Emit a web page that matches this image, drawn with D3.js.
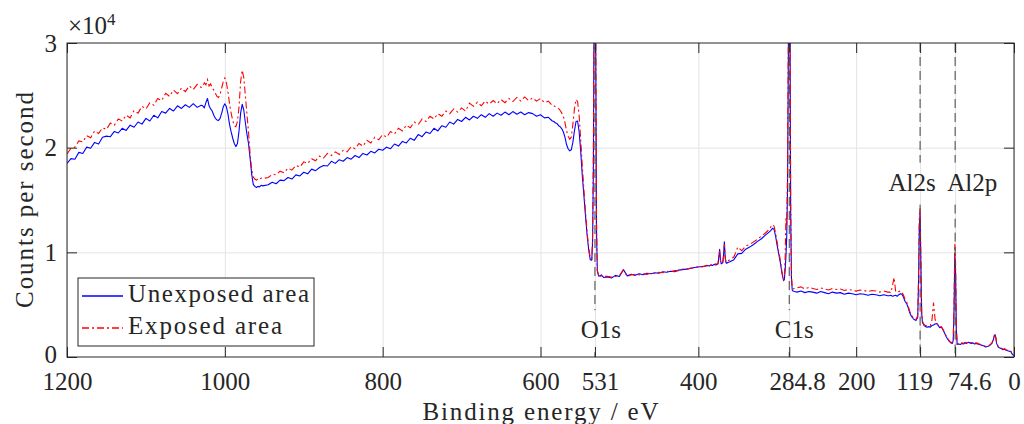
<!DOCTYPE html>
<html>
<head>
<meta charset="utf-8">
<script src="https://cdn.jsdelivr.net/npm/d3@7"></script>
<style>
  body { margin: 0; background: #fff; }
  text { font-family: "Liberation Serif", "DejaVu Serif", serif; fill: #262626; }
</style>
</head>
<body>
<div id="chart"></div>
<script>
// binding energy grid (eV)
const bindingEnergy = [
  // 1200 - 1030
  1200,1195,1190,1185,1180,1175,1170,1165,1160,1155,1150,1145,1140,1135,1130,1125,1120,1115,1110,1105,
  1100,1095,1090,1085,1080,1075,1070,1065,1060,1055,1050,1045,1040,1035,1030,
  // 1028 - 952
  1028,1026,1024,1022,1020,1018,1016,1014,1012,1010,1008,1006,1004,1002,1000,998,996,994,992,990,
  988,986,984,982,980,978,976,974,972,970,968,966,964,962,960,958,956,954,952,
  // 945 - 585
  945,940,935,930,925,920,915,910,905,900,895,890,885,880,875,870,865,860,855,850,
  845,840,835,830,825,820,815,810,805,800,795,790,785,780,775,770,765,760,755,750,
  745,740,735,730,725,720,715,710,705,700,695,690,685,680,675,670,665,660,655,650,
  645,640,635,630,625,620,615,610,605,600,595,590,585,
  // 583 - 535
  583,581,579,577,575,573,571,569,567,565,563,561,559,557,555,553,551,549,547,545,543,541,539,537,535,
  // O1s
  534,533,532,531,530,529,528,526,523,520,
  // 515 - 390
  515,510,505,500,495,490,485,480,475,470,465,460,455,450,445,440,435,430,425,420,415,410,405,400,395,390,
  // 388 - 360
  388,386,384,382,380,378,376,375,374,373,372,371,370,369,368,367,366,365,364,362,360,
  // 355 - 310
  355,350,345,340,335,330,325,320,315,310,
  // C1s
  308,306,304,302,300,298,296,294,292,291,290,289,288,287,286,285,284,283,282,281,280,278,
  // 275 - 160
  275,270,265,260,255,250,245,240,235,230,225,220,215,210,205,200,195,190,185,180,175,170,165,160,
  // 158 - 0
  158,156,154,152,150,148,146,144,142,140,138,136,134,132,130,128,126,124,122,121,
  120,119,118,117,116,114,112,110,108,106,104,102,100,98,96,94,92,90,88,86,
  84,82,80,78,77,76,75,74,73,72,70,68,66,64,62,60,58,56,54,52,
  50,48,46,44,42,40,38,36,34,32,30,28,26,25,24,23,22,20,18,16,
  14,12,10,8,6,4,2,0
];

// counts per second, unexposed area
const unexposedCounts = [
  18500,18950,18900,19550,19450,20050,19950,20500,20350,21000,21100,21050,21550,21400,21850,21650,22150,21950,22450,22250,
  22800,22550,23100,22850,23450,23300,23750,23500,24000,23750,24100,23850,24200,23850,24050,
  24000,23800,24300,24700,24000,23700,23500,23100,22800,22650,22600,22800,23300,23900,24200,23900,23200,22200,21500,20900,
  20400,20100,20400,21600,23300,24150,23600,22400,21300,20400,19000,17500,16500,16300,16200,16300,16250,16400,16350,
  16450,16700,16550,16900,16850,17150,17000,17400,17300,17650,17500,17950,17800,18100,18300,18250,18700,18500,18850,18700,
  19050,18900,19250,19050,19450,19300,19650,19500,19850,19750,20050,19900,20350,20150,20600,20450,20900,20700,21250,21050,
  21500,21350,21850,21600,22100,21950,22450,22250,22700,22500,22900,22650,23000,22800,23150,22900,23250,23000,23300,23100,
  23400,23150,23450,23200,23400,23150,23350,23250,23000,23150,22850,22900,22550,
  22500,22350,22300,22100,22000,21800,21500,21000,20300,19900,19700,19800,20500,21600,22500,22550,21500,19600,17300,15400,13500,11700,10300,9300,9250,
  11000,18000,36000,48000,30000,12000,8200,7700,7850,7600,
  7650,7550,7800,7700,8350,7750,7900,7800,7950,7850,8000,7950,8050,8000,8150,8100,8200,8150,8300,8350,8400,8450,8550,8600,8650,8700,
  8750,8700,8800,8750,8850,8800,8850,8900,9600,10300,9300,8900,8950,9000,9800,11000,9600,9000,8950,9050,9100,
  9300,9850,9900,10300,10500,10750,11050,11300,11650,11950,
  12100,12300,12200,11500,10600,9800,9000,8000,7300,7400,8300,9600,11500,16000,28000,42000,36000,14000,7500,6400,6300,6250,
  6200,6300,6150,6250,6200,6100,6250,6150,6050,6200,6100,6150,6000,6100,6050,5950,6050,6000,5900,6000,5950,5850,5950,5850,
  5850,5900,5800,5850,5900,5800,5950,6050,6000,5700,5300,5100,4700,4200,3900,3700,3550,3500,3800,7000,
  12500,13700,9000,4200,3300,3000,2900,2850,2900,2850,3000,3050,3150,3200,3000,2800,2850,2600,2300,1950,
  1700,1500,1350,1300,1600,4500,9800,8000,2500,1200,1250,1200,1300,1250,1350,1300,1400,1350,1300,1350,
  1250,1300,1250,1200,1150,1100,1050,950,1000,1050,1150,1300,1700,2000,2150,1800,1300,950,850,800,
  700,750,650,600,550,500,250,100
];

// counts per second, exposed area
const exposedCounts = [
  19400,19950,20050,20650,20550,21150,20950,21600,21350,21900,21750,22350,22150,22750,22550,23100,22850,23550,23300,23950,
  23700,24300,24050,24700,24500,25200,24900,25500,25150,25700,25350,25900,25550,26050,25750,
  25850,26200,26000,26500,25900,26100,25700,25500,25200,24900,24800,25100,25700,26300,26650,26200,25300,24200,23300,22600,
  22100,22000,22500,23900,26300,27400,26700,25000,23200,21500,19400,17900,17200,17000,16900,17000,16950,17100,17050,
  17150,17450,17400,17750,17600,18050,17850,18300,18150,18650,18500,18950,18750,19200,19000,19450,19250,19600,19350,19750,
  19600,20100,19900,20400,20150,20700,20450,21000,20750,21250,21000,21550,21300,21850,21600,22150,21900,22450,22200,22750,
  22500,23000,22750,23250,23000,23500,23250,23700,23400,23800,23500,24250,23950,24350,24000,24450,24150,24500,24200,24600,
  24300,24700,24400,24800,24450,24850,24500,24750,24450,24700,24300,24450,24000,
  24000,23900,23800,23750,23550,23300,23000,22400,21600,21100,20800,21000,22200,23700,24600,24400,23000,20700,18200,16000,13900,12000,10500,9500,9400,
  11500,19500,38000,50000,32000,13000,8300,7650,7750,7700,
  7700,7650,7700,7800,8300,7700,7850,7900,7850,7950,7900,8050,7950,8100,8050,8200,8150,8250,8250,8400,8350,8500,8500,8650,8600,8750,
  8700,8800,8750,8850,8800,8900,8850,8950,9500,10100,9200,8950,9000,9050,9700,10800,9500,9050,9050,9200,9300,
  9550,10500,10150,10600,10750,11000,11250,11550,11850,12200,
  12450,12650,12500,11800,10900,10000,9200,8100,7400,7600,9500,13400,12500,17500,30000,44000,38000,15000,7800,6600,6500,6550,
  6600,6700,6500,6650,6550,6450,6600,6500,6400,6550,6450,6500,6350,6450,6400,6300,6400,6350,6250,6350,6300,6200,6300,6200,
  6200,6150,6800,7600,6300,6150,6250,6300,6200,5900,5500,5250,4850,4350,4000,3800,3650,3600,3950,7500,
  13200,14200,9500,4400,3400,3100,3000,2950,3000,3000,3500,5200,3600,3250,3050,2850,2900,2650,2350,2000,
  1750,1550,1400,1350,1700,5000,10800,8800,2700,1250,1300,1250,1350,1300,1400,1350,1450,1400,1350,1400,
  1300,1350,1300,1250,1200,1150,1100,1000,1050,1100,1200,1350,1750,2050,2200,1850,1350,1000,900,850,
  750,800,700,650,600,550,300,150
];

const seriesNames = ["Unexposed area", "Exposed area"];
const seriesColors = ["#0000ff", "#ff0000"];
const xTickValues = [1200, 1000, 800, 600, 531, 400, 284.8, 200, 119, 74.6, 0];
const yTickValues = [0, 10000, 20000, 30000];
const peakEnergies = [531, 284.8, 119, 74.6];
const peakLabels = ["O1s", "C1s", "Al2s", "Al2p"];

if (unexposedCounts.length !== bindingEnergy.length || exposedCounts.length !== bindingEnergy.length) {
    console.error("length mismatch", bindingEnergy.length, unexposedCounts.length, exposedCounts.length);
}

// Layout
const width = 1024, height = 424;
const plotLeft = 67, plotRight = 1014, plotTop = 43, plotBottom = 357;
const dashDot = "7,3,2,3";

const svg = d3.select("#chart")
    .append("svg")
    .attr("width", width)
    .attr("height", height);

const x = d3.scaleLinear().domain([1200, 0]).range([plotLeft, plotRight]);
const y = d3.scaleLinear().domain([0, 30000]).range([plotBottom, plotTop]);

// Grid
svg.append("g")
    .attr("transform", `translate(0,${plotBottom})`)
    .call(d3.axisBottom(x).tickValues(xTickValues).tickSize(-(plotBottom - plotTop)).tickFormat(""))
    .call(g => g.select(".domain").remove())
    .call(g => g.selectAll("line").attr("stroke", "#e3e3e3"));

svg.append("g")
    .attr("transform", `translate(${plotLeft},0)`)
    .call(d3.axisLeft(y).tickValues([10000, 20000]).tickSize(-(plotRight - plotLeft)).tickFormat(""))
    .call(g => g.select(".domain").remove())
    .call(g => g.selectAll("line").attr("stroke", "#e3e3e3"));

// Clip
svg.append("clipPath")
    .attr("id", "plot-clip")
    .append("rect")
    .attr("x", plotLeft).attr("y", plotTop)
    .attr("width", plotRight - plotLeft).attr("height", plotBottom - plotTop);

const line = d3.line()
    .x((d, i) => x(bindingEnergy[i]))
    .y(d => y(d));

const plot = svg.append("g").attr("clip-path", "url(#plot-clip)");

plot.append("path")
    .datum(unexposedCounts)
    .attr("d", line)
    .attr("fill", "none")
    .attr("stroke", seriesColors[0])
    .attr("stroke-width", 1.1)
    .attr("stroke-linejoin", "round");

plot.append("path")
    .datum(exposedCounts)
    .attr("d", line)
    .attr("fill", "none")
    .attr("stroke", seriesColors[1])
    .attr("stroke-width", 1.1)
    .attr("stroke-dasharray", dashDot);

// Peak markers (dashed lines with a gap for the label)
const labelBase = {"O1s": 1800, "C1s": 1800, "Al2s": 15900, "Al2p": 15900};
const labelShift = {"O1s": 6, "C1s": 5, "Al2s": -8, "Al2p": 17};

peakEnergies.forEach((e, i) => {
    const name = peakLabels[i];
    const base = y(labelBase[name]);
    const gapTop = base - 28, gapBottom = base + 14;
    [[plotTop, gapTop], [gapBottom, plotBottom]].forEach(([y1, y2]) => {
        svg.append("line")
            .attr("x1", x(e)).attr("x2", x(e))
            .attr("y1", y1).attr("y2", y2)
            .attr("stroke", "#404040")
            .attr("stroke-width", 1)
            .attr("stroke-dasharray", "9,5");
    });
    svg.append("text")
        .attr("x", x(e) + labelShift[name])
        .attr("y", base)
        .attr("text-anchor", "middle")
        .style("font-size", "25px")
        .text(name);
});

// Axes (ticks inside)
const tickShift = {531: 5, 284.8: 8, 119: -6, 74.6: 14};

svg.append("g")
    .attr("transform", `translate(0,${plotBottom})`)
    .call(d3.axisBottom(x).tickValues(xTickValues).tickSize(-10).tickPadding(15).tickFormat(d => d))
    .call(g => g.select(".domain").remove())
    .call(g => g.selectAll("line").attr("stroke", "#262626"))
    .call(g => g.selectAll("text")
        .attr("fill", "#262626")
        .attr("dx", d => tickShift[d] || 0)
        .style("font-size", "25px")
        .style("font-family", "'Liberation Serif', serif"));

svg.append("g")
    .attr("transform", `translate(0,${plotTop})`)
    .call(d3.axisTop(x).tickValues(xTickValues).tickSize(-10).tickFormat(""))
    .call(g => g.select(".domain").remove())
    .call(g => g.selectAll("line").attr("stroke", "#262626"));

svg.append("g")
    .attr("transform", `translate(${plotLeft},0)`)
    .call(d3.axisLeft(y).tickValues(yTickValues).tickSize(-10).tickPadding(10).tickFormat(d => d / 10000))
    .call(g => g.select(".domain").remove())
    .call(g => g.selectAll("line").attr("stroke", "#262626"))
    .call(g => g.selectAll("text")
        .attr("fill", "#262626")
        .attr("dy", d => d === 0 ? "0.2em" : "0.32em")
        .style("font-size", "25px")
        .style("font-family", "'Liberation Serif', serif"));

svg.append("g")
    .attr("transform", `translate(${plotRight},0)`)
    .call(d3.axisRight(y).tickValues(yTickValues).tickSize(-10).tickFormat(""))
    .call(g => g.select(".domain").remove())
    .call(g => g.selectAll("line").attr("stroke", "#262626"));

svg.append("rect")
    .attr("x", plotLeft).attr("y", plotTop)
    .attr("width", plotRight - plotLeft).attr("height", plotBottom - plotTop)
    .attr("fill", "none")
    .attr("stroke", "#262626")
    .attr("stroke-width", 1);

// Exponent
const expo = svg.append("text")
    .attr("x", 68)
    .attr("y", 34)
    .style("font-size", "25px");
expo.append("tspan").text("×10");
expo.append("tspan").attr("dy", -9).style("font-size", "17px").text("4");

// Axis titles
svg.append("text")
    .attr("x", (plotLeft + plotRight) / 2)
    .attr("y", 420)
    .attr("text-anchor", "middle")
    .attr("textLength", 236)
    .style("font-size", "25px")
    .text("Binding energy / eV");

svg.append("text")
    .attr("transform", `translate(33,${(plotTop + plotBottom) / 2}) rotate(-90)`)
    .attr("text-anchor", "middle")
    .attr("textLength", 216)
    .style("font-size", "25px")
    .text("Counts per second");

// Legend
const legend = svg.append("g");
legend.append("rect")
    .attr("x", 78).attr("y", 278)
    .attr("width", 236).attr("height", 68)
    .attr("fill", "#fff")
    .attr("stroke", "#262626")
    .attr("stroke-width", 1);

const legendTextLength = [181, 154];
seriesNames.forEach((name, i) => {
    const ly = 296 + i * 32;
    const sample = legend.append("path")
        .attr("d", `M82,${ly}H123`)
        .attr("fill", "none")
        .style("stroke", seriesColors[i])
        .style("stroke-width", 1.3);
    if (i === 1) sample.style("stroke-dasharray", dashDot);
    legend.append("text")
        .attr("x", 128)
        .attr("y", ly + 6)
        .attr("textLength", legendTextLength[i])
        .style("font-size", "25px")
        .text(name);
});
</script>
</body>
</html>
